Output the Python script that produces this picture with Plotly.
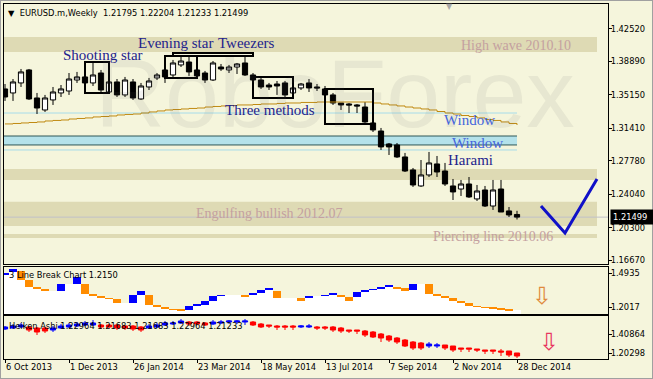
import plotly.graph_objects as go
import pandas as pd

# ---------------- data ----------------
weeks = list(pd.date_range("2013-10-06", periods=65, freq="7D"))

open_ = [1.3582, 1.3537, 1.3649, 1.3794, 1.3481, 1.3347, 1.3459, 1.3537, 1.3559, 1.3682,
         1.3716, 1.3649, 1.3760, 1.3548, 1.3660, 1.3515, 1.3660, 1.3470, 1.3604, 1.3705,
         1.3794, 1.3738, 1.3850, 1.3883, 1.3794, 1.3760, 1.3682, 1.3827, 1.3794, 1.3827,
         1.3872, 1.3738, 1.3682, 1.3626, 1.3637, 1.3649, 1.3537, 1.3593, 1.3649, 1.3604,
         1.3582, 1.3515, 1.3425, 1.3414, 1.3403, 1.3380, 1.3202, 1.3112, 1.2967, 1.2956,
         1.2822, 1.2677, 1.2498, 1.2621, 1.2744, 1.2665, 1.2498, 1.2464, 1.2520, 1.2353,
         1.2453, 1.2274, 1.2464, 1.2219, 1.21795]
high = [1.3637, 1.3693, 1.3805, 1.3805, 1.3537, 1.3515, 1.3604, 1.3626, 1.3760, 1.3772,
        1.3749, 1.3883, 1.3794, 1.3682, 1.3693, 1.3716, 1.3693, 1.3649, 1.3705, 1.3760,
        1.3850, 1.3906, 1.3950, 1.3950, 1.3816, 1.3783, 1.3894, 1.3861, 1.3850, 1.3872,
        1.3939, 1.3760, 1.3705, 1.3649, 1.3671, 1.3671, 1.3615, 1.3649, 1.3693, 1.3637,
        1.3615, 1.3537, 1.3425, 1.3425, 1.3414, 1.3436, 1.3213, 1.3146, 1.2978, 1.2978,
        1.2867, 1.2699, 1.2788, 1.2878, 1.2833, 1.2755, 1.2576, 1.2565, 1.2598, 1.2509,
        1.2498, 1.2565, 1.2565, 1.2263, 1.22204]
low = [1.3448, 1.3448, 1.3604, 1.3459, 1.3302, 1.3325, 1.3403, 1.3492, 1.3515, 1.3649,
       1.3626, 1.3615, 1.3537, 1.3537, 1.3492, 1.3492, 1.3459, 1.3459, 1.3570, 1.3682,
       1.3649, 1.3705, 1.3827, 1.3727, 1.3705, 1.3649, 1.3671, 1.3783, 1.3760, 1.3749,
       1.3727, 1.3660, 1.3582, 1.3570, 1.3515, 1.3492, 1.3526, 1.3570, 1.3548, 1.3559,
       1.3492, 1.3403, 1.3347, 1.3313, 1.3313, 1.3202, 1.3101, 1.2900, 1.2844, 1.2811,
       1.2654, 1.2487, 1.2487, 1.2598, 1.2598, 1.2498, 1.2341, 1.2386, 1.2364, 1.2330,
       1.2263, 1.2230, 1.2207, 1.2151, 1.21233]
close = [1.3492, 1.3660, 1.3772, 1.3470, 1.3369, 1.3481, 1.3548, 1.3582, 1.3693, 1.3716,
         1.3649, 1.3738, 1.3570, 1.3660, 1.3515, 1.3682, 1.3481, 1.3615, 1.3671, 1.3738,
         1.3716, 1.3872, 1.3894, 1.3772, 1.3727, 1.3682, 1.3872, 1.3805, 1.3827, 1.3861,
         1.3738, 1.3682, 1.3604, 1.3604, 1.3615, 1.3515, 1.3593, 1.3637, 1.3593, 1.3593,
         1.3515, 1.3425, 1.3403, 1.3403, 1.3392, 1.3213, 1.3124, 1.2934, 1.2934, 1.2822,
         1.2665, 1.2509, 1.2621, 1.2755, 1.2654, 1.2520, 1.2431, 1.2520, 1.2375, 1.2442,
         1.2274, 1.2453, 1.2207, 1.2174, 1.21499]
moving_avg = [1.3191, 1.3196, 1.3202, 1.3207, 1.3213, 1.3224, 1.3230, 1.3235, 1.3246, 1.3252,
              1.3258, 1.3269, 1.3274, 1.3280, 1.3291, 1.3297, 1.3302, 1.3313, 1.3325, 1.3336,
              1.3347, 1.3352, 1.3358, 1.3364, 1.3369, 1.3380, 1.3386, 1.3392, 1.3397, 1.3403,
              1.3403, 1.3408, 1.3414, 1.3414, 1.3420, 1.3425, 1.3425, 1.3431, 1.3431, 1.3436,
              1.3436, 1.3436, 1.3436, 1.3436, 1.3436, 1.3436, 1.3425, 1.3414, 1.3403, 1.3392,
              1.3380, 1.3369, 1.3358, 1.3347, 1.3330, 1.3313, 1.3302, 1.3285, 1.3274, 1.3258,
              1.3241, 1.3230, 1.3213, 1.3196, 1.3179]

forecast_dates = ["2015-01-18", "2015-02-08", "2015-03-08"]
forecast_values = [1.2274, 1.1973, 1.2576]

# horizontal levels (price bands)
tan_bands = [(1.3995, 1.4163), (1.2565, 1.2688), (1.2051, 1.2322), (1.1917, 1.1962)]
window_band = (1.2956, 1.3056)
window_lines = [1.3313, 1.2900]
last_price = 1.21499

# pattern boxes: (start, end, bottom, top)
pattern_boxes = [("2013-12-15", "2014-01-05", 1.3537, 1.3883),
                 ("2014-02-23", "2014-03-23", 1.3705, 1.3950),
                 ("2014-03-02", "2014-05-11", 1.3950, 1.3984),
                 ("2014-05-11", "2014-06-15", 1.3481, 1.3716),
                 ("2014-07-13", "2014-08-24", 1.3191, 1.3582)]

# 3 Line Break
lb_high = [1.4961, 1.5278, 1.5107, 1.4334, 1.3733, 1.3562, 1.3390, 1.3991, 1.3991, 1.4592,
           1.3991, 1.3133, 1.2961, 1.2789, 1.2704, 1.2360, 1.3047, 1.3390, 1.3047, 1.2189,
           1.2017, 1.1845, 1.1760, 1.2103, 1.2189, 1.2532, 1.2961, 1.3047, 1.3047, 1.3047,
           1.3047, 1.3218, 1.3476, 1.3648, 1.3390, 1.2789, 1.2789, 1.2789, 1.2961, 1.2961,
           1.3047, 1.3218, 1.3047, 1.2875, 1.3304, 1.3476, 1.3562, 1.3733, 1.3905, 1.3733,
           1.3648, 1.3991, 1.3991, 1.3991, 1.3133, 1.2961, 1.2789, 1.2532, 1.2360, 1.2103,
           1.2017, 1.1974, 1.1888, 1.1802, 1.1717]
lb_low = [1.4823, 1.5021, 1.4334, 1.3733, 1.3562, 1.3390, 1.3390, 1.3390, 1.3991, 1.3991,
          1.3133, 1.2961, 1.2789, 1.2704, 1.2360, 1.2360, 1.2360, 1.3047, 1.2189, 1.2017,
          1.1845, 1.1760, 1.1674, 1.1760, 1.2103, 1.2189, 1.2532, 1.2961, 1.3047, 1.3047,
          1.2875, 1.3047, 1.3218, 1.3476, 1.2789, 1.2789, 1.2789, 1.2532, 1.2789, 1.2961,
          1.2961, 1.3047, 1.2875, 1.2532, 1.2875, 1.3304, 1.3476, 1.3562, 1.3733, 1.3562,
          1.3390, 1.3476, 1.3991, 1.3133, 1.2961, 1.2789, 1.2532, 1.2360, 1.2103, 1.2017,
          1.1974, 1.1888, 1.1802, 1.1717, 1.1717]
lb_trend = ["up", "up", "down", "down", "down", "down", "flat", "up", "flat", "up",
            "down", "down", "down", "down", "down", "flat", "up", "up", "down", "down",
            "down", "down", "down", "up", "up", "up", "up", "up", "flat", "flat",
            "down", "up", "up", "up", "down", "flat", "flat", "down", "up", "flat",
            "up", "up", "down", "down", "up", "up", "up", "up", "up", "down",
            "down", "up", "flat", "down", "down", "down", "down", "down", "down", "down",
            "down", "down", "down", "down", "flat"]

# Heiken Ashi
ha_open = [1.4660, 1.4768, 1.4877, 1.4877, 1.4768, 1.4768, 1.4552, 1.4768, 1.4877, 1.4985,
           1.5093, 1.5093, 1.5093, 1.5093, 1.5093, 1.4985, 1.4985, 1.4877, 1.4768, 1.4877,
           1.5093, 1.5201, 1.5310, 1.5418, 1.5418, 1.5310, 1.5201, 1.5310, 1.5418, 1.5418,
           1.5418, 1.5418, 1.5201, 1.5093, 1.4985, 1.4985, 1.4985, 1.4877, 1.4877, 1.4877,
           1.4877, 1.4877, 1.4768, 1.4552, 1.4552, 1.4444, 1.4335, 1.4119, 1.3902, 1.3686,
           1.3469, 1.3253, 1.3145, 1.2820, 1.2820, 1.2928, 1.2820, 1.2604, 1.2604, 1.2496,
           1.2387, 1.2387, 1.2279, 1.2279, 1.2063]
ha_close = [1.4877, 1.4985, 1.5093, 1.4552, 1.4335, 1.4444, 1.4768, 1.4985, 1.5093, 1.5201,
            1.5310, 1.5310, 1.4877, 1.4877, 1.4768, 1.4768, 1.4660, 1.4552, 1.4985, 1.5093,
            1.5310, 1.5310, 1.5526, 1.5201, 1.5201, 1.5093, 1.5418, 1.5418, 1.5526, 1.5526,
            1.5526, 1.5093, 1.4877, 1.4985, 1.4877, 1.4877, 1.4877, 1.4985, 1.4985, 1.4768,
            1.4768, 1.4552, 1.4444, 1.4444, 1.4444, 1.4011, 1.3794, 1.3686, 1.3469, 1.3253,
            1.2820, 1.2604, 1.2604, 1.3037, 1.2928, 1.2604, 1.2387, 1.2496, 1.2496, 1.2387,
            1.2279, 1.2279, 1.2171, 1.1846, 1.1738]
ha_high = [1.4985, 1.5201, 1.5310, 1.4985, 1.4877, 1.4877, 1.4985, 1.5201, 1.5310, 1.5418,
           1.5526, 1.5634, 1.5201, 1.5201, 1.5201, 1.5093, 1.5093, 1.4985, 1.5201, 1.5310,
           1.5526, 1.5526, 1.5742, 1.5526, 1.5526, 1.5418, 1.5634, 1.5634, 1.5634, 1.5634,
           1.5742, 1.5526, 1.5310, 1.5093, 1.5093, 1.5093, 1.5093, 1.5093, 1.5201, 1.4985,
           1.4985, 1.4985, 1.4877, 1.4552, 1.4552, 1.4552, 1.4444, 1.4227, 1.4011, 1.3794,
           1.3578, 1.3361, 1.3253, 1.3253, 1.3145, 1.2928, 1.2820, 1.2604, 1.2604, 1.2496,
           1.2387, 1.2387, 1.2496, 1.2279, 1.2063]
ha_low = [1.4552, 1.4660, 1.4768, 1.4335, 1.4011, 1.4227, 1.4335, 1.4660, 1.4768, 1.4877,
          1.4985, 1.4985, 1.4660, 1.4768, 1.4552, 1.4552, 1.4444, 1.4335, 1.4660, 1.4768,
          1.4985, 1.5093, 1.5201, 1.4985, 1.5093, 1.4985, 1.5093, 1.5201, 1.5201, 1.5201,
          1.5093, 1.4985, 1.4768, 1.4768, 1.4552, 1.4552, 1.4552, 1.4768, 1.4768, 1.4552,
          1.4552, 1.4335, 1.4227, 1.4227, 1.4119, 1.3794, 1.3686, 1.3253, 1.3253, 1.3037,
          1.2712, 1.2387, 1.2387, 1.2604, 1.2604, 1.2387, 1.2171, 1.2171, 1.2171, 1.2171,
          1.1954, 1.1954, 1.1738, 1.1630, 1.1521]

main_ticks = [1.42520, 1.38890, 1.35150, 1.31410, 1.27780, 1.24040, 1.20300, 1.16670]
lb_ticks = [1.4935, 1.2017]
ha_ticks = [1.40864, 1.20298]
date_ticks = ["2013-10-06", "2013-12-01", "2014-01-26", "2014-03-23", "2014-05-18",
              "2014-07-13", "2014-09-07", "2014-11-02", "2014-12-28"]
date_labels = ["6 Oct 2013", "1 Dec 2013", "26 Jan 2014", "23 Mar 2014", "18 May 2014",
               "13 Jul 2014", "7 Sep 2014", "2 Nov 2014", "28 Dec 2014"]

# ---------------- layout helpers ----------------
W, H = 653, 379
BG = "#F5F5DC"
AX_FONT = dict(family="DejaVu Sans", size=8.3, color="black")


def pyp(p):
    return 1 - p / H


def pxp(p):
    return p / W


x_start = weeks[0] - pd.Timedelta(days=0.875)
x_end = weeks[0] + pd.Timedelta(days=527.625)
band_end = pd.Timestamp("2015-03-08")
week_ms = 7 * 86400000

MAIN_RANGE = [1.1626, 1.4531]
LB_RANGE = [1.1416, 1.5450]
HA_RANGE = [1.1413, 1.6067]

fig = go.Figure()

# 3 line break panel: white area + bricks
fig.add_trace(go.Bar(x=weeks, y=[h - LB_RANGE[0] for h in lb_high], base=LB_RANGE[0],
                     width=week_ms, marker=dict(color="white", line=dict(width=0)),
                     xaxis="x2", yaxis="y2", hoverinfo="skip", showlegend=False))
brick_colors = {"up": "#0000FF", "down": "#FF8C00", "flat": "white"}
fig.add_trace(go.Bar(x=weeks, y=[h - l for h, l in zip(lb_high, lb_low)], base=lb_low,
                     width=week_ms,
                     marker=dict(color=[brick_colors[t] for t in lb_trend], line=dict(width=0)),
                     xaxis="x2", yaxis="y2", hoverinfo="skip", showlegend=False))

# main candles
fig.add_trace(go.Candlestick(x=weeks, open=open_, high=high, low=low, close=close,
                             increasing=dict(line=dict(color="black", width=1), fillcolor="white"),
                             decreasing=dict(line=dict(color="black", width=1), fillcolor="black"),
                             whiskerwidth=0, xaxis="x", yaxis="y", hoverinfo="skip",
                             showlegend=False))
fig.add_trace(go.Scatter(x=weeks, y=moving_avg, mode="lines",
                         line=dict(color="#C08A12", width=1, shape="hv"),
                         xaxis="x", yaxis="y", hoverinfo="skip", showlegend=False))
fig.add_trace(go.Scatter(x=forecast_dates, y=forecast_values, mode="lines",
                         line=dict(color="#1010C8", width=3),
                         xaxis="x", yaxis="y", hoverinfo="skip", showlegend=False))

# Heiken Ashi
fig.add_trace(go.Candlestick(x=weeks, open=ha_open, high=ha_high, low=ha_low, close=ha_close,
                             increasing=dict(line=dict(color="#0000FF", width=1), fillcolor="#0000FF"),
                             decreasing=dict(line=dict(color="#FF0000", width=1), fillcolor="#FF0000"),
                             whiskerwidth=0, xaxis="x3", yaxis="y3", hoverinfo="skip",
                             showlegend=False))

shapes = []
for lo_, hi_ in tan_bands:
    shapes.append(dict(type="rect", xref="x", yref="y", x0=x_start, x1=band_end, y0=lo_, y1=hi_,
                       fillcolor="#DEDAB4", line=dict(width=0), layer="below"))
shapes.append(dict(type="rect", xref="x", yref="y", x0=x_start, x1=weeks[-1],
                   y0=window_band[0], y1=window_band[1],
                   fillcolor="#B4E2EA", line=dict(width=0), layer="below"))
for yv in window_band:
    shapes.append(dict(type="line", xref="x", yref="y", x0=x_start, x1=weeks[-1], y0=yv, y1=yv,
                       line=dict(color="#2F5656", width=1), layer="below"))
for yv in window_lines:
    shapes.append(dict(type="line", xref="x", yref="y", x0=x_start, x1=weeks[-1], y0=yv, y1=yv,
                       line=dict(color="#A6DCEA", width=1), layer="below"))
shapes.append(dict(type="line", xref="x", yref="y", x0=x_start, x1=x_end, y0=last_price,
                   y1=last_price, line=dict(color="#C0C0C8", width=1), layer="below"))
for s, e, b, t in pattern_boxes:
    shapes.append(dict(type="rect", xref="x", yref="y", x0=s, x1=e, y0=b, y1=t,
                       line=dict(color="black", width=2), fillcolor="rgba(0,0,0,0)"))
# window frame
shapes.append(dict(type="rect", xref="paper", yref="paper", x0=0, x1=1, y0=0, y1=1,
                   line=dict(color="#A0A0A0", width=2), fillcolor="rgba(0,0,0,0)"))

annotations = []


def label(text, xp, yp, color, size=15, family="Liberation Serif", **kw):
    annotations.append(dict(text=text, xref="paper", yref="paper", x=pxp(xp), y=pyp(yp),
                            xanchor="left", yanchor="middle", showarrow=False,
                            font=dict(family=family, size=size, color=color), **kw))


# watermark
annotations.append(dict(text="RoboForex", xref="paper", yref="paper", x=pxp(335), y=pyp(93),
                        xanchor="center", yanchor="middle", showarrow=False,
                        font=dict(family="Liberation Sans", size=97, color="rgba(100,100,100,0.09)")))

NAVY = "#23238C"
label("Shooting star", 61, 55, NAVY)
label("Evening star", 136, 43, NAVY)
label("Tweezers", 216, 43, NAVY)
label("Three methods", 223, 110, NAVY)
label("Window", 442, 120, "#4466DD")
label("Window", 450, 143, "#4466DD")
label("Harami", 446, 160, NAVY)
label("High wave 2010.10", 459, 45, "#C4A0A0", size=14)
label("Engulfing bullish 2012.07", 194, 213, "#C4A0A0", size=14)
label("Piercing line 2010.06", 431, 236, "#C4A0A0", size=14)

label("\u25bc\u00a0\u00a0EURUSD.m,Weekly\u00a0\u00a01.21795 1.22204 1.21233 1.21499", 6, 13, "black",
      size=8.3, family="DejaVu Sans")
label("3 Line Break Chart 1.2150", 7, 275, "black", size=8.3, family="DejaVu Sans")
label("Heiken Ashi 1.22964 1.21683 1.21683 1.22964 1.21233", 7, 326, "black", size=8.3,
      family="DejaVu Sans")
label("\u21e9", 530, 296, "#E08A3C", size=24, family="DejaVu Sans")
label("\u21e9", 537, 342, "#E8365F", size=24, family="DejaVu Sans")
label("\u25bc", 444, 6, "#A8A8A8", size=8, family="DejaVu Sans")

annotations.append(dict(text="1.21499", xref="paper", yref="y", x=pxp(610), y=last_price,
                        xanchor="left", yanchor="middle", showarrow=False, bgcolor="black",
                        font=dict(family="DejaVu Sans", size=8.3, color="white"),
                        borderpad=2, width=38, align="left"))

yax_common = dict(side="right", showline=True, linecolor="black", linewidth=1, mirror=True,
                  ticks="outside", ticklen=3, tickcolor="black", tickfont=AX_FONT,
                  ticklabelstandoff=-3,
                  showgrid=False, zeroline=False, fixedrange=True)
xax_common = dict(type="date", range=[x_start, x_end], domain=[pxp(4), pxp(608)],
                  showline=True, linecolor="black", linewidth=1, mirror=True,
                  showgrid=False, zeroline=False, rangeslider=dict(visible=False),
                  fixedrange=True)

fig.update_layout(
    width=W, height=H, margin=dict(l=0, r=0, t=0, b=0),
    paper_bgcolor=BG, plot_bgcolor=BG, showlegend=False,
    barmode="overlay", bargap=0, boxgap=0.35, boxgroupgap=0,
    xaxis=dict(anchor="y", showticklabels=False, ticks="", **xax_common),
    xaxis2=dict(anchor="y2", showticklabels=False, ticks="", matches="x", **xax_common),
    xaxis3=dict(anchor="y3", showticklabels=True, ticks="outside", ticklen=3, tickcolor="black",
                tickvals=date_ticks, ticktext=date_labels, tickfont=AX_FONT,
                ticklabelposition="outside right", matches="x", **xax_common),
    yaxis=dict(anchor="x", domain=[pyp(264), pyp(4)], range=MAIN_RANGE,
               tickvals=main_ticks, tickformat=".5f", **yax_common),
    yaxis2=dict(anchor="x2", domain=[pyp(314), pyp(267)], range=LB_RANGE,
                tickvals=lb_ticks, tickformat=".4f", **yax_common),
    yaxis3=dict(anchor="x3", domain=[pyp(359), pyp(316)], range=HA_RANGE,
                tickvals=ha_ticks, tickformat=".5f", **yax_common),
    shapes=shapes, annotations=annotations, hovermode=False,
)

fig.write_html("out.html", config={"displayModeBar": False},
               post_script="document.body.style.margin='0';document.body.style.padding='0';"
                           "document.body.style.overflow='hidden';")
